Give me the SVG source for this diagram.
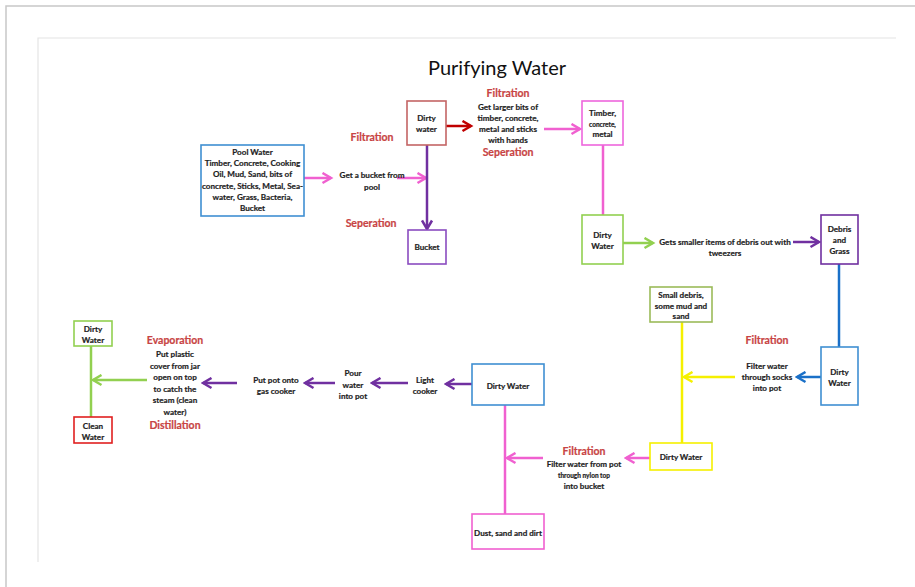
<svg xmlns="http://www.w3.org/2000/svg" width="915" height="587" viewBox="0 0 915 587">
<style>
.t{font-family:Lato,"Liberation Sans",sans-serif;font-weight:bold;font-size:8.1px;fill:#1e1e1e;stroke:#1e1e1e;stroke-width:0.2;text-anchor:middle}
.s{font-size:6.5px}
.lab{font-family:Lato,"Liberation Sans",sans-serif;font-weight:bold;font-size:10.5px;fill:#c84444;stroke:#c84444;stroke-width:0.2;text-anchor:middle}
.title{font-family:Lato,"Open Sans",sans-serif;font-size:20px;fill:#111;text-anchor:middle}
rect{fill:#fff;stroke-width:1.6}
.c{fill:none;stroke-width:2.5}
</style>
<defs>
<marker id="aPink" markerUnits="userSpaceOnUse" markerWidth="13" markerHeight="13" refX="10.5" refY="6.5" orient="auto"><path d="M2,1.5 L10.5,6.5 L2,11.5" fill="none" stroke="#f060d0" stroke-width="2.5"/></marker>
<marker id="aPurple" markerUnits="userSpaceOnUse" markerWidth="13" markerHeight="13" refX="10.5" refY="6.5" orient="auto"><path d="M2,1.5 L10.5,6.5 L2,11.5" fill="none" stroke="#7030a0" stroke-width="2.5"/></marker>
<marker id="aRed" markerUnits="userSpaceOnUse" markerWidth="13" markerHeight="13" refX="10.5" refY="6.5" orient="auto"><path d="M2,1.5 L10.5,6.5 L2,11.5" fill="none" stroke="#c00000" stroke-width="2.5"/></marker>
<marker id="aGreen" markerUnits="userSpaceOnUse" markerWidth="13" markerHeight="13" refX="10.5" refY="6.5" orient="auto"><path d="M2,1.5 L10.5,6.5 L2,11.5" fill="none" stroke="#92d050" stroke-width="2.5"/></marker>
<marker id="aBlue" markerUnits="userSpaceOnUse" markerWidth="13" markerHeight="13" refX="10.5" refY="6.5" orient="auto"><path d="M2,1.5 L10.5,6.5 L2,11.5" fill="none" stroke="#1a70c8" stroke-width="2.5"/></marker>
<marker id="aYellow" markerUnits="userSpaceOnUse" markerWidth="13" markerHeight="13" refX="10.5" refY="6.5" orient="auto"><path d="M2,1.5 L10.5,6.5 L2,11.5" fill="none" stroke="#f5f000" stroke-width="2.5"/></marker>
</defs>
<rect x="0" y="0" width="915" height="587" fill="#fff" stroke="none"/>
<path d="M6,587 L6,6 L915,6" fill="none" stroke="#c8c8c8" stroke-width="1.5"/>
<path d="M38,562 L38,38 L896,38" fill="none" stroke="#e4e4e4" stroke-width="1.2"/>
<text class="title" x="497" y="75">Purifying Water</text>

<g id="connectors">
<path class="c" stroke="#f060d0" d="M304,178 L331,178" marker-end="url(#aPink)"/>
<path class="c" stroke="#f060d0" d="M397,178 L426,178" marker-end="url(#aPink)"/>
<path class="c" stroke="#7030a0" d="M427,145 L427,229" marker-end="url(#aPurple)"/>
<path class="c" stroke="#c00000" d="M446,126 L471,126" marker-end="url(#aRed)"/>
<path class="c" stroke="#f060d0" d="M544,129 L580,129" marker-end="url(#aPink)"/>
<path class="c" stroke="#f060d0" d="M603,145 L603,215"/>
<path class="c" stroke="#92d050" d="M623,243 L653,243" marker-end="url(#aGreen)"/>
<path class="c" stroke="#7030a0" d="M793,242 L819,242" marker-end="url(#aPurple)"/>
<path class="c" stroke="#1a70c8" d="M839,264 L839,347"/>
<path class="c" stroke="#1a70c8" d="M821,377 L797,377" marker-end="url(#aBlue)"/>
<path class="c" stroke="#f5f000" d="M735,377 L684,377" marker-end="url(#aYellow)"/>
<path class="c" stroke="#f5f000" d="M682,322 L682,443"/>
<path class="c" stroke="#f060d0" d="M650,458 L626,458" marker-end="url(#aPink)"/>
<path class="c" stroke="#f060d0" d="M543,458 L507,458" marker-end="url(#aPink)"/>
<path class="c" stroke="#f060d0" d="M505,405 L505,514"/>
<path class="c" stroke="#7030a0" d="M472,384 L446,384" marker-end="url(#aPurple)"/>
<path class="c" stroke="#7030a0" d="M408,383 L372,383" marker-end="url(#aPurple)"/>
<path class="c" stroke="#7030a0" d="M335,383 L305,383" marker-end="url(#aPurple)"/>
<path class="c" stroke="#7030a0" d="M237,383 L203,383" marker-end="url(#aPurple)"/>
<path class="c" stroke="#92d050" d="M147,380 L93,380" marker-end="url(#aGreen)"/>
<path class="c" stroke="#92d050" d="M91,346 L91,417"/>
</g>

<g id="labels">
<text class="t" x="372" y="178">Get a bucket from<tspan x="372" dy="11.5">pool</tspan></text>
<text class="lab" x="372" y="141">Filtration</text>
<text class="lab" x="371" y="227">Seperation</text>
<text class="lab" x="508" y="97">Filtration</text>
<text class="t" x="508" y="110">Get larger bits of<tspan x="508" dy="11">timber, concrete,</tspan><tspan x="508" dy="11">metal and sticks</tspan><tspan x="508" dy="11">with hands</tspan></text>
<text class="lab" x="508" y="156">Seperation</text>
<text class="t" x="725" y="245">Gets smaller items of debris out with<tspan x="725" dy="11">tweezers</tspan></text>
<text class="lab" x="767" y="344">Filtration</text>
<text class="t" x="767" y="369">Filter water<tspan x="767" dy="11">through socks</tspan><tspan x="767" dy="11">into pot</tspan></text>
<text class="lab" x="584" y="455">Filtration</text>
<text class="t" x="584" y="467">Filter water from pot<tspan class="s" x="584" dy="11">through nylon top</tspan><tspan x="584" dy="11">into bucket</tspan></text>
<text class="t" x="425" y="383">Light<tspan x="425" dy="11">cooker</tspan></text>
<text class="t" x="353" y="376">Pour<tspan x="353" dy="11.5">water</tspan><tspan x="353" dy="11.5">into pot</tspan></text>
<text class="t" x="276" y="383">Put pot onto<tspan x="276" dy="11">gas cooker</tspan></text>
<text class="lab" x="175" y="344">Evaporation</text>
<text class="t" x="175" y="357">Put plastic<tspan x="175" dy="11.5">cover from jar</tspan><tspan x="175" dy="11.5">open on top</tspan><tspan x="175" dy="11.5">to catch the</tspan><tspan x="175" dy="11.5">steam (clean</tspan><tspan x="175" dy="11.5">water)</tspan></text>
<text class="lab" x="175" y="429">Distillation</text>
</g>

<g id="pool-water">
<rect x="201" y="145" width="103" height="71" stroke="#3f8fd2"/>
<text class="t" x="252.5" y="155">Pool Water<tspan x="252.5" dy="11.2">Timber, Concrete, Cooking</tspan><tspan x="252.5" dy="11.2">Oil, Mud, Sand, bits of</tspan><tspan x="252.5" dy="11.2">concrete, Sticks, Metal, Sea-</tspan><tspan x="252.5" dy="11.2">water, Grass, Bacteria,</tspan><tspan x="252.5" dy="11.2">Bucket</tspan></text>
</g>
<g id="dirty-water-1">
<rect x="407" y="101" width="39" height="44" stroke="#c46464"/>
<text class="t" x="426.5" y="121">Dirty<tspan x="426.5" dy="10.5">water</tspan></text>
</g>
<g id="bucket">
<rect x="408" y="230" width="38" height="34" stroke="#8a4cc0"/>
<text class="t" x="427" y="250">Bucket</text>
</g>
<g id="timber">
<rect x="582" y="101" width="41" height="44" stroke="#ee66dd"/>
<text class="t" x="602.5" y="116">Timber,<tspan class="s" x="602.5" dy="10.5">concrete,</tspan><tspan x="602.5" dy="10.5">metal</tspan></text>
</g>
<g id="dirty-water-2">
<rect x="582" y="215" width="41" height="49" stroke="#92d050"/>
<text class="t" x="602.5" y="238">Dirty<tspan x="602.5" dy="11">Water</tspan></text>
</g>
<g id="debris-grass">
<rect x="821" y="215" width="37" height="49" stroke="#7030a0"/>
<text class="t" x="839.5" y="232">Debris<tspan x="839.5" dy="11">and</tspan><tspan x="839.5" dy="11">Grass</tspan></text>
</g>
<g id="dirty-water-3">
<rect x="821" y="347" width="37" height="58" stroke="#3f8fd2"/>
<text class="t" x="839.5" y="375">Dirty<tspan x="839.5" dy="11">Water</tspan></text>
</g>
<g id="small-debris">
<rect x="650" y="287" width="62" height="35" stroke="#9bbb59"/>
<text class="t" x="681" y="298">Small debris,<tspan x="681" dy="10.5">some mud and</tspan><tspan x="681" dy="10.5">sand</tspan></text>
</g>
<g id="dirty-water-4">
<rect x="650" y="443" width="62" height="27" stroke="#f5f000"/>
<text class="t" x="681" y="460">Dirty Water</text>
</g>
<g id="dirty-water-5">
<rect x="472" y="364" width="72" height="41" stroke="#3f8fd2"/>
<text class="t" x="508" y="389">Dirty Water</text>
</g>
<g id="dust">
<rect x="472" y="514" width="72" height="35" stroke="#f060d0"/>
<text class="t" x="508" y="536">Dust, sand and dirt</text>
</g>
<g id="dirty-water-6">
<rect x="74" y="321" width="38" height="25" stroke="#92d050"/>
<text class="t" x="93" y="332">Dirty<tspan x="93" dy="11">Water</tspan></text>
</g>
<g id="clean-water">
<rect x="74" y="417" width="38" height="26" stroke="#e02020"/>
<text class="t" x="93" y="429">Clean<tspan x="93" dy="11">Water</tspan></text>
</g>
</svg>
